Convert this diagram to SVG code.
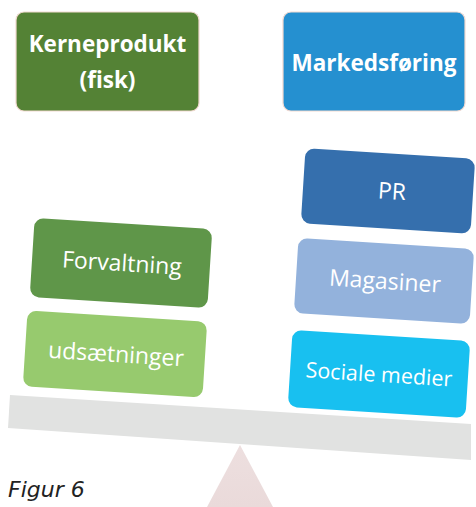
<svg xmlns="http://www.w3.org/2000/svg" width="476" height="507" viewBox="0 0 476 507">
<defs>
<style>
.top{stroke:#f2d9d0;stroke-width:1.2}
.tb{font-family:"Open Sans","Liberation Sans",sans-serif;font-weight:bold;font-size:22.5px;fill:#ffffff;text-anchor:middle}
.tr{font-family:"Open Sans","Liberation Sans",sans-serif;font-size:23px;fill:#ffffff;text-anchor:middle}
.cap{font-family:"DejaVu Sans",sans-serif;font-style:italic;font-size:22px;fill:#222222}
</style>
<linearGradient id="fulcrum" x1="0" y1="0" x2="0" y2="1">
<stop offset="0" stop-color="#eddfdf"/>
<stop offset="1" stop-color="#eadada"/>
</linearGradient>
</defs>
<rect width="476" height="507" fill="#ffffff"/>
<g id="fulcrum-shape">
<polygon points="240,445 273,507 207,507" fill="url(#fulcrum)"/>
</g>
<g id="plank">
<polygon points="10,395 471,424 471,460 8,428" fill="#e1e2e1"/>
</g>
<g id="kerneprodukt">
<rect class="top" x="16" y="12" width="183" height="99" rx="8" fill="#548235"/>
<text class="tb" x="107.5" y="52">Kerneprodukt</text>
<text class="tb" x="107.5" y="88">(fisk)</text>
</g>
<g id="markedsforing">
<rect class="top" x="283" y="12" width="182" height="99" rx="8" fill="#2590d0"/>
<text class="tb" x="374" y="71">Markedsføring</text>
</g>
<g id="forvaltning" transform="translate(121,263) rotate(3.6)">
<rect x="-89" y="-39.5" width="178" height="79" rx="9" fill="#5f9649"/>
<text class="tr" x="1" y="8">Forvaltning</text>
</g>
<g id="udsaetninger" transform="translate(115,354) rotate(3.6)">
<rect x="-90" y="-38" width="180" height="76" rx="9" fill="#97ca6e"/>
<text class="tr" x="1" y="8">udsætninger</text>
</g>
<g id="pr" transform="translate(388,191) rotate(3.6)">
<rect x="-85" y="-37.5" width="170" height="75" rx="9" fill="#356fad"/>
<text class="tr" x="4" y="8">PR</text>
</g>
<g id="magasiner" transform="translate(384,281) rotate(3.6)">
<rect x="-88" y="-37.5" width="176" height="75" rx="9" fill="#93b2dc"/>
<text class="tr" x="1" y="8">Magasiner</text>
</g>
<g id="sociale" transform="translate(379,374) rotate(3.6)">
<rect x="-89" y="-38.5" width="178" height="77" rx="9" fill="#18c0f0"/>
<text class="tr" x="0" y="8" style="font-size:21.5px">Sociale medier</text>
</g>
<g id="connectors"></g>
<text class="cap" x="8" y="497">Figur 6</text>
</svg>
